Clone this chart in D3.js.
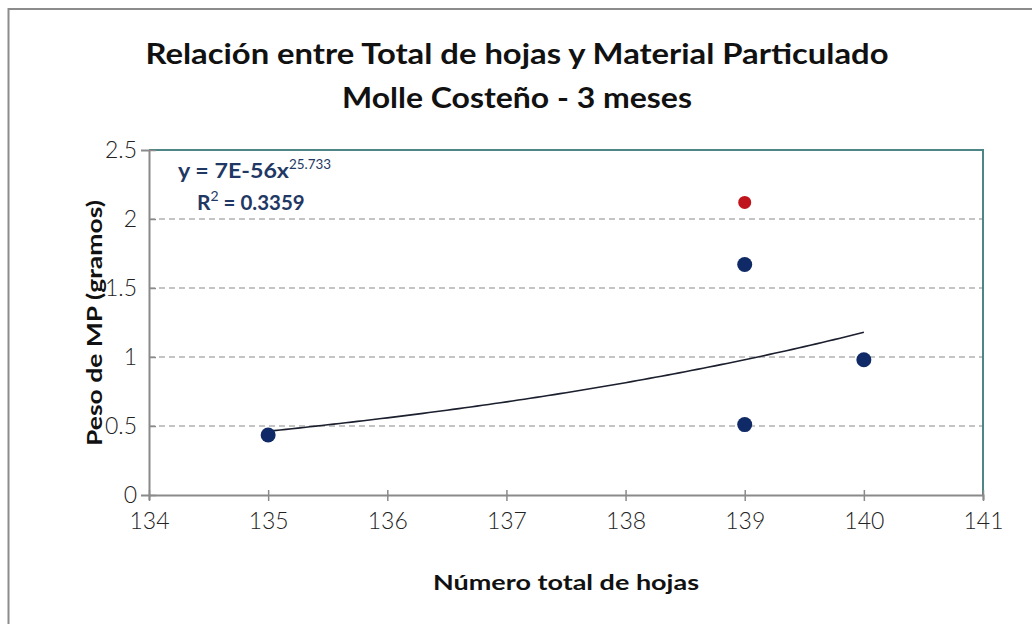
<!DOCTYPE html>
<html>
<head>
<meta charset="utf-8">
<script src="https://cdn.jsdelivr.net/npm/d3@7"></script>
<style>
    body { margin: 0; background: #fff; }
    text { font-family: Lato, "Open Sans", sans-serif; }
    .tick text { font-size: 23px; fill: #222; }
</style>
</head>
<body>
<div id="chart"></div>
<script>
// datos
const hojas = [135, 139, 139, 140];
const peso = [0.435, 0.51, 1.67, 0.98];
// punto atipico (rojo), fuera del ajuste
const hojasAtipico = [139];
const pesoAtipico = [2.12];

const xTicks = [134, 135, 136, 137, 138, 139, 140, 141];
const yTicks = [0, 0.5, 1, 1.5, 2, 2.5];
const gridTicks = [0.5, 1, 1.5, 2];

// linea de tendencia potencial, coeficientes del grafico
const coefA = 7e-56;
const coefB = 25.733;

const W = 1032, H = 624;
const margin = {top: 150, right: 49, bottom: 129, left: 149};
const width = W - margin.left - margin.right;
const height = H - margin.top - margin.bottom;

const root = d3.select("#chart").append("svg")
    .attr("width", W)
    .attr("height", H);

// la fuente original es mas ancha, se estira al ancho medido
function stretch(sel, w) {
    sel.attr("textLength", w).attr("lengthAdjust", "spacingAndGlyphs");
    return sel;
}

// marco exterior (solo se ven el lado izquierdo y superior)
root.append("rect")
    .attr("x", 8.5).attr("y", 9)
    .attr("width", 1100).attr("height", 700)
    .attr("fill", "none")
    .attr("stroke", "#8c8c8c")
    .attr("stroke-width", 2);

root.append("text")
    .attr("x", 517).attr("y", 64)
    .attr("text-anchor", "middle")
    .attr("font-size", 29).attr("font-weight", "bold").attr("fill", "#111")
    .text("Relación entre Total de hojas y Material Particulado")
    .call(stretch, 743);
root.append("text")
    .attr("x", 517).attr("y", 108)
    .attr("text-anchor", "middle")
    .attr("font-size", 29).attr("font-weight", "bold").attr("fill", "#111")
    .text("Molle Costeño - 3 meses")
    .call(stretch, 350);

let svg = root.append("g")
    .attr("transform", "translate(" + margin.left + "," + margin.top + ")");

let xScale = d3.scaleLinear().domain([134, 141]).range([0, width]);
let yScale = d3.scaleLinear().domain([0, 2.5]).range([height, 0]);

// lineas de division
svg.append("g")
    .selectAll("line")
    .data(gridTicks)
    .join("line")
    .attr("x1", 0).attr("x2", width)
    .attr("y1", d => yScale(d)).attr("y2", d => yScale(d))
    .attr("stroke", "#8a8a8a")
    .attr("stroke-dasharray", "6,4")
    .attr("stroke-width", 1.2);

// borde superior y derecho del area
svg.append("path")
    .attr("d", "M0," + yScale(2.5) + "H" + width + "V" + height)
    .attr("fill", "none")
    .attr("stroke", "#4e8585")
    .attr("stroke-width", 2);

let xAxis = d3.axisBottom(xScale).tickValues(xTicks).tickFormat(d3.format("d")).tickSize(5).tickPadding(13);
let yAxis = d3.axisLeft(yScale).tickValues(yTicks).tickFormat(d => d).tickSize(8).tickPadding(4);

svg.append("g")
    .attr("transform", "translate(0," + height + ")")
    .call(xAxis)
    .call(function(g) {
        g.select(".domain").attr("stroke", "#8a8a8a").attr("stroke-width", 2);
        g.selectAll(".tick line").attr("stroke", "#8a8a8a").attr("stroke-width", 1.5).attr("y1", -5).attr("y2", 6);
        g.selectAll(".tick text").attr("font-weight", 300);
    });

svg.append("g")
    .call(yAxis)
    .call(function(g) {
        g.select(".domain").attr("stroke", "#8a8a8a").attr("stroke-width", 2);
        g.selectAll(".tick line").attr("stroke", "#8a8a8a").attr("stroke-width", 1.5).attr("x2", 7);
        g.selectAll(".tick text").attr("font-weight", 300);
    });

// tendencia
let trendX = d3.range(135, 140.001, 0.05);
let line = d3.line()
    .x(d => xScale(d))
    .y(d => yScale(coefA * Math.pow(d, coefB)));
svg.append("path")
    .datum(trendX)
    .attr("d", line)
    .attr("fill", "none")
    .attr("stroke", "#1b1f2e")
    .attr("stroke-width", 1.6);

svg.append("g")
    .selectAll("circle")
    .data(hojas)
    .join("circle")
    .attr("cx", d => xScale(d))
    .attr("cy", (d, i) => yScale(peso[i]))
    .attr("r", 7.5)
    .attr("fill", "#0f2a66");

svg.append("g")
    .selectAll("circle")
    .data(hojasAtipico)
    .join("circle")
    .attr("cx", d => xScale(d))
    .attr("cy", (d, i) => yScale(pesoAtipico[i]))
    .attr("r", 6.5)
    .attr("fill", "#c0141c");

// ecuacion
let eq = svg.append("text")
    .attr("x", 29).attr("y", 28)
    .attr("font-size", 21).attr("font-weight", "bold").attr("fill", "#1f3864");
eq.append("tspan").text("y = 7E-56x").call(stretch, 111);
eq.append("tspan").attr("dy", -9).attr("font-size", 14).attr("font-weight", "normal").text("25.733").call(stretch, 42);

let r2 = svg.append("text")
    .attr("x", 48).attr("y", 60)
    .attr("font-size", 21).attr("font-weight", "bold").attr("fill", "#1f3864");
r2.append("tspan").text("R");
r2.append("tspan").attr("dy", -9).attr("font-size", 14).attr("font-weight", "normal").text("2");
r2.append("tspan").attr("dy", 9).text(" = 0.3359").call(stretch, 86);

// titulos de ejes
root.append("text")
    .attr("x", 566).attr("y", 590)
    .attr("text-anchor", "middle")
    .attr("font-size", 21).attr("font-weight", "bold").attr("fill", "#111")
    .text("Número total de hojas")
    .call(stretch, 266);

root.append("text")
    .attr("transform", "translate(102,323) rotate(-90)")
    .attr("text-anchor", "middle")
    .attr("font-size", 21).attr("font-weight", "bold").attr("fill", "#111")
    .text("Peso de MP (gramos)")
    .call(stretch, 246);
</script>
</body>
</html>
